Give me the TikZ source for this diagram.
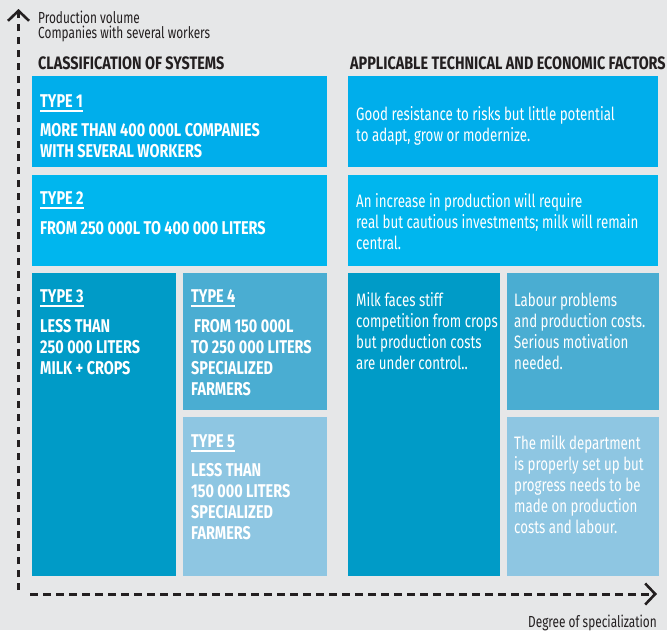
\documentclass[tikz,border=0pt]{standalone}
\usepackage{fontspec}
\setmainfont{Fira Sans}[FakeStretch=0.74]
\newfontfamily\headfont{Fira Sans}[FakeStretch=0.80]
\newfontfamily\captfont{Fira Sans}[FakeStretch=0.78]
\usetikzlibrary{arrows.meta}
\definecolor{bg}{HTML}{E6E7E8}
\definecolor{ink}{HTML}{231F20}
\definecolor{cA}{HTML}{00AEEB}
\definecolor{cB}{HTML}{00B6EE}
\definecolor{cC}{HTML}{009BC7}
\definecolor{cD}{HTML}{4AADD2}
\definecolor{cE}{HTML}{8EC6E2}
\newcommand\typeul[1]{\setbox0\hbox{#1}\rlap{\rule[-4.5pt]{\wd0}{1.2pt}}\box0}
\newcommand\blk[1]{\parbox[t]{300pt}{\raggedright #1}}
\tikzset{
  box/.style={anchor=north west, inner sep=0pt, outer sep=0pt, draw=none},
  capt/.style={anchor=base west, inner sep=0pt, text=white, font=\captfont\bfseries\fontsize{18.5}{21}\selectfont},
  body/.style={anchor=base west, inner sep=0pt, text=white, font=\fontsize{18}{21}\selectfont},
  head/.style={anchor=base west, inner sep=0pt, text=ink, font=\headfont\bfseries\fontsize{18}{20}\selectfont},
  axlab/.style={anchor=base west, inner sep=0pt, text=ink, font=\fontsize{16}{15}\selectfont},
  axis/.style={draw=ink, line width=3pt, dash pattern=on 8pt off 5pt, -{Straight Barb[length=10pt,width=21pt,line width=2.6pt]}}
}
\begin{document}
\begin{tikzpicture}[x=1pt,y=-1pt]
\fill[bg] (0,0) rectangle (667,630);
\useasboundingbox (0,0) rectangle (667,630);

% axes
\coordinate (yb) at (18.5,590);
\coordinate (yt) at (18.5,9);
\coordinate (xl) at (30,594);
\coordinate (xr) at (657,594);
\draw[axis, dash pattern=on 7pt off 6pt] (yb) -- (yt);
\draw[axis] (xl) -- (xr);
\node[axlab] (pv) at (38,23) {Production volume};
\node[axlab] (cw) at (38,38) {Companies with several workers};
\node[axlab, anchor=base east] (ds) at (657,627) {Degree of specialization};

% headers
\node[head] (h1) at (38,69) {CLASSIFICATION OF SYSTEMS};
\node[head] (h2) at (350,69) {APPLICABLE TECHNICAL AND ECONOMIC FACTORS};

% left boxes
\node[box, fill=cA, minimum width=295pt, minimum height=91pt] (b1) at (32,76) {};
\node[box, fill=cB, minimum width=295pt, minimum height=91pt] (b2) at (32,175) {};
\node[box, fill=cC, minimum width=144pt, minimum height=303pt] (b3) at (32,273) {};
\node[box, fill=cD, minimum width=144pt, minimum height=137pt] (b4) at (183,273) {};
\node[box, fill=cE, minimum width=144pt, minimum height=159pt] (b5) at (183,417) {};

% right boxes
\node[box, fill=cA, minimum width=310pt, minimum height=91pt] (r1) at (348,76) {};
\node[box, fill=cB, minimum width=310pt, minimum height=91pt] (r2) at (348,175) {};
\node[box, fill=cC, minimum width=152pt, minimum height=303pt] (r3) at (348,273) {};
\node[box, fill=cD, minimum width=152pt, minimum height=137pt] (r4) at (507,273) {};
\node[box, fill=cE, minimum width=152pt, minimum height=159pt] (r5) at (507,417) {};

% left texts
\node[capt] (t1) at (40,107) {\typeul{TYPE 1}};
\node[capt] (t1b) at (40,136) {\blk{MORE THAN 400 000L COMPANIES\\WITH SEVERAL WORKERS}};
\node[capt] (t2) at (40,204) {\typeul{TYPE 2}};
\node[capt] (t2b) at (40,234) {\blk{FROM 250 000L TO 400 000 LITERS}};
\node[capt] (t3) at (40,302) {\typeul{TYPE 3}};
\node[capt] (t3b) at (40,332) {\blk{LESS THAN\\250 000 LITERS\\MILK + CROPS}};
\node[capt] (t4) at (191,302) {\typeul{TYPE 4}};
\node[capt] (t4b) at (191,332) {\blk{\hspace*{3pt}FROM 150 000L\\TO 250 000 LITERS\\SPECIALIZED\\FARMERS}};
\node[capt] (t5) at (191,447) {\typeul{TYPE 5}};
\node[capt] (t5b) at (191,476) {\blk{LESS THAN\\150 000 LITERS\\SPECIALIZED\\FARMERS}};

% right texts
\node[body] (s1) at (356,120) {\blk{Good resistance to risks but little potential\\to adapt, grow or modernize.}};
\node[body] (s2) at (356,207) {\blk{An increase in production will require\\real but cautious investments; milk will remain\\central.}};
\node[body] (s3) at (356,306) {\blk{Milk faces stiff\\competition from crops\\but production costs\\are under control..}};
\node[body] (s4) at (514,306) {\blk{Labour problems\\and production costs.\\Serious motivation\\needed.}};
\node[body] (s5) at (514,449) {\blk{The milk department\\is properly set up but\\progress needs to be\\made on production\\costs and labour.}};
\end{tikzpicture}
\end{document}
